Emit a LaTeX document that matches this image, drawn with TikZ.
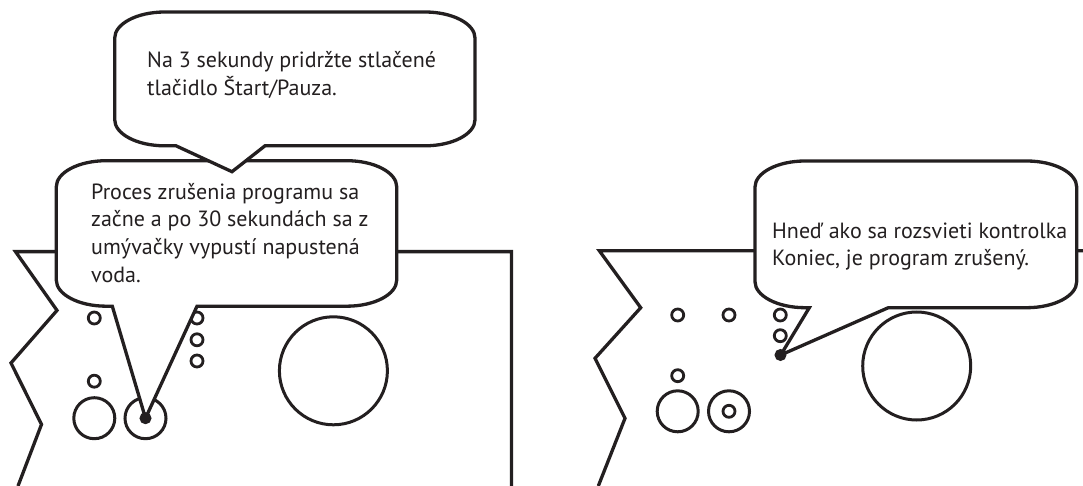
\documentclass[tikz,border=0pt]{standalone}
\usepackage{fontspec}
\setmainfont{PT Sans}
\definecolor{ink}{HTML}{231F20}
\newcommand{\bubble}[9]{% left,top,right,bottom, p1x, tipx, tipy, p2x, name
  \draw[bubbleline] (#1+50,#2) -- (#3-50,#2)
    .. controls (#3-22,#2) and (#3,#2+12) .. (#3,#2+26)
    -- (#3,#4-26)
    .. controls (#3,#4-12) and (#3-22,#4) .. (#3-50,#4)
    -- (#8,#4) -- (#6,#7) -- (#5,#4) -- (#1+50,#4)
    .. controls (#1+22,#4) and (#1,#4-12) .. (#1,#4-26)
    -- (#1,#2+26)
    .. controls (#1,#2+12) and (#1+22,#2) .. (#1+50,#2) -- cycle;}
\tikzset{
  thick line/.style={draw=ink,line width=3.3pt,miter limit=10},
  device/.style={thick line,line join=miter},
  bubbleline/.style={thick line,fill=white,line join=miter},
  led/.style={draw=ink,line width=2.8pt,fill=white,circle,minimum size=12pt,inner sep=0pt},
  hitled/.style={draw=ink,line width=1pt,fill=ink,circle,minimum size=11pt,inner sep=0pt},
  bigbtn/.style={draw=ink,line width=3pt,fill=white,circle,minimum size=41pt,inner sep=0pt},
  knob/.style={draw=ink,line width=3pt,fill=white,circle,minimum size=108pt,inner sep=0pt},
  say/.style={anchor=north west,inner sep=0pt,align=left,text=ink,font=\fontsize{22}{27.6}\selectfont},
}
\begin{document}
\begin{tikzpicture}[x=1pt,y=-1pt]
\useasboundingbox (0,0) rectangle (1083,486);
% left device
\draw[device] (511.4,486) -- (511.4,251.6) -- (15.5,251.6) -- (57,310.4) -- (11,363) -- (41.5,424.4) -- (18,486);
\node[led] (l1) at (94.3,318) {};
\node[led] (l2) at (197,318) {};
\node[led] (l3) at (197,339.8) {};
\node[led] (l4) at (197,361) {};
\node[led] (l5) at (94.3,381.2) {};
\node[bigbtn] (b1) at (94.3,418.2) {};
\node[bigbtn] (b2) at (145.5,418.2) {};
\node[knob] (k1) at (333.4,370.8) {};
% right device
\draw[device] (1083,250.7) -- (599.3,250.7) -- (640.7,307.7) -- (595,358.3) -- (625,418.3) -- (598.3,486);
\node[led] (r1) at (677.7,315) {};
\node[led] (r2) at (729,315) {};
\node[led] (r3) at (780.3,315) {};
\node[led] (r4) at (780.3,335.7) {};
\node[led] (r5) at (677.7,375.7) {};
\node[bigbtn] (b3) at (677.7,411.3) {};
\node[bigbtn] (b4) at (729,411.3) {};
\node[led] (r6) at (729,411.3) {};
\node[knob] (k2) at (916.7,366) {};
% bubbles
\bubble{56.3}{160.7}{396.7}{306.2}{112.3}{145.5}{418.2}{197}{b}
\bubble{114.7}{12}{475}{145.8}{176}{232}{171.7}{265}{a}
\bubble{755}{161}{1076.7}{307.7}{809.3}{780.7}{355}{888.3}{c}
\node[hitled] (tip1) at (145.5,418.2) {};
\node[hitled] (tip2) at (780.5,355) {};
% texts
\node[say] (t1) at (147,51.5) {Na 3 sekundy pridržte stlačené\\tlačidlo Štart/Pauza.};
\node[say] (t2) at (91,183) {Proces zrušenia programu sa\\začne a po 30 sekundách sa z\\umývačky vypustí napustená\\voda.};
\node[say] (t3) at (772,222.5) {Hneď ako sa rozsvieti kontrolka\\Koniec, je program zrušený.};
\end{tikzpicture}
\end{document}
